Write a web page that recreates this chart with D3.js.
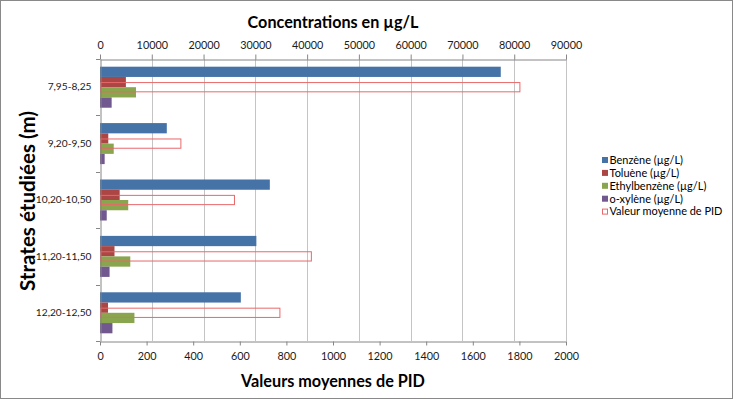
<!DOCTYPE html>
<html>
<head>
<meta charset="utf-8">
<script src="https://cdn.jsdelivr.net/npm/d3@7"></script>
<style>
  html, body { margin: 0; padding: 0; background: #fff; }
  svg { display: block; }
  text { font-family: "Lato", "Open Sans", sans-serif; }
</style>
</head>
<body>
<svg id="chart" width="733" height="399"></svg>
<script>
// ---- data ----
const categories = ["7,95-8,25", "9,20-9,50", "10,20-10,50", "11,20-11,50", "12,20-12,50"];
const benzene   = [77400, 12900, 32800, 30200, 27200];
const toluene   = [5000, 1600, 3800, 2800, 1550];
const ethyl     = [6950, 2650, 5450, 5850, 6650];
const oxylene   = [2250, 900, 1300, 1850, 2400];
const pid       = [1800, 345, 575, 905, 770];
const seriesNames = ["Benzène (µg/L)", "Toluène (µg/L)", "Ethylbenzène (µg/L)", "o-xylène (µg/L)"];
const pidName = "Valeur moyenne de PID";
const topTicks = [0, 10000, 20000, 30000, 40000, 50000, 60000, 70000, 80000, 90000];
const bottomTicks = [0, 200, 400, 600, 800, 1000, 1200, 1400, 1600, 1800, 2000];
const topTitle = "Concentrations en µg/L";
const bottomTitle = "Valeurs moyennes de PID";
const leftTitle = "Strates étudiées (m)";

// ---- styles ----
const colors = ["#4572A7", "#AA4643", "#89A54E", "#71588F"];
const pidColor = "#E8686B";
const axisColor = "#868686";
const gridColor = "#c4c4c4";

const svg = d3.select("#chart");
svg.append("rect").attr("x", 0.5).attr("y", 0.5).attr("width", 732).attr("height", 398)
  .attr("fill", "#fff").attr("stroke", "#898989").attr("stroke-width", 1);

const L = 100, R = 566, T = 59, B = 341;

const xTop = d3.scaleLinear().domain([0, 90000]).range([L, R]);
const xBot = d3.scaleLinear().domain([0, 2000]).range([L, R]);
const y0 = d3.scaleBand().domain(categories).range([T, B]).paddingInner(0).paddingOuter(0);
const y1 = d3.scaleBand().domain(seriesNames).range([0, y0.bandwidth()]).paddingInner(0).paddingOuter(0.75);

// grid lines
svg.append("g").selectAll("line").data(topTicks.slice(1)).join("line")
  .attr("x1", d => Math.round(xTop(d)) + 0.5).attr("x2", d => Math.round(xTop(d)) + 0.5)
  .attr("y1", T).attr("y2", B)
  .attr("stroke", gridColor).attr("stroke-width", 1);

// bars
const seriesData = [benzene, toluene, ethyl, oxylene];
seriesData.forEach((vals, si) => {
  svg.append("g").selectAll("rect").data(vals).join("rect")
    .attr("x", xTop(0))
    .attr("y", (d, i) => y0(categories[i]) + y1(seriesNames[si]))
    .attr("width", d => xTop(d) - xTop(0))
    .attr("height", y1.bandwidth())
    .attr("fill", colors[si]);
});

// PID bars (secondary axis, hollow)
svg.append("g").selectAll("rect").data(pid).join("rect")
  .attr("x", xBot(0) + 0.5)
  .attr("y", (d, i) => y0(categories[i]) + y0.bandwidth() / 2 - y1.bandwidth() / 2 + 0.5)
  .attr("width", d => xBot(d) - xBot(0))
  .attr("height", y1.bandwidth() - 1)
  .attr("fill", "none").attr("stroke", pidColor).attr("stroke-width", 1);

// top axis
const gTop = svg.append("g").attr("transform", `translate(0,${T + 0.5})`)
  .call(d3.axisTop(xTop).tickValues(topTicks).tickFormat(d => String(d)).tickSize(5).tickSizeOuter(0).tickPadding(6));
// bottom axis
const gBot = svg.append("g").attr("transform", `translate(0,${B + 0.5})`)
  .call(d3.axisBottom(xBot).tickValues(bottomTicks).tickFormat(d => String(d)).tickSize(4).tickSizeOuter(0).tickPadding(7));
// left axis
const gLeft = svg.append("g").attr("transform", `translate(${L + 0.5},0)`)
  .call(d3.axisLeft(y0).tickSize(0).tickPadding(9));
// left tick marks at band boundaries
const bounds = categories.map(c => y0(c)).concat([B]);
svg.append("g").selectAll("line").data(bounds).join("line")
  .attr("x1", L - 4).attr("x2", L)
  .attr("y1", d => Math.round(d) + 0.5).attr("y2", d => Math.round(d) + 0.5)
  .attr("stroke", axisColor);

[gTop, gBot, gLeft].forEach(g => {
  g.select(".domain").attr("stroke", axisColor);
  g.selectAll(".tick line").attr("stroke", axisColor);
  g.selectAll(".tick text").attr("fill", "#1a1a1a").attr("font-size", "10.8px")
    .attr("font-family", "Lato, sans-serif");
});
gLeft.selectAll(".tick text").attr("font-size", "10.2px");

// titles
function fit(sel, w) {
  const cur = sel.node().getComputedTextLength();
  const fs = parseFloat(sel.attr("font-size"));
  sel.attr("font-size", (fs * w / cur).toFixed(2) + "px");
}
const t1 = svg.append("text").attr("x", (L + R) / 2).attr("y", 28).attr("text-anchor", "middle")
  .attr("font-weight", "bold").attr("font-size", "16px").attr("fill", "#000").text(topTitle);
fit(t1, 171);
const t2 = svg.append("text").attr("x", (L + R) / 2).attr("y", 387).attr("text-anchor", "middle")
  .attr("font-weight", "bold").attr("font-size", "16px").attr("fill", "#000").text(bottomTitle);
fit(t2, 184);
const t3 = svg.append("text").attr("transform", `translate(35,${(T + B) / 2 + 1}) rotate(-90)`)
  .attr("text-anchor", "middle")
  .attr("font-weight", "bold").attr("font-size", "18px").attr("fill", "#000").text(leftTitle);
fit(t3, 180);

// legend
const legNames = seriesNames.concat([pidName]);
const leg = svg.append("g");
const legTexts = [];
legNames.forEach((n, i) => {
  const yy = 160 + i * 12.9;
  if (i < 4) {
    leg.append("rect").attr("x", 602).attr("y", yy - 3).attr("width", 6).attr("height", 6).attr("fill", colors[i]);
  } else {
    leg.append("rect").attr("x", 602.5).attr("y", yy - 2.5).attr("width", 5).attr("height", 5)
      .attr("fill", "none").attr("stroke", pidColor);
  }
  legTexts.push(leg.append("text").attr("x", 609.5).attr("y", yy + 3.8).attr("font-size", "11px").attr("fill", "#000").text(n));
});
fit(legTexts[4], 113);
const lfs = legTexts[4].attr("font-size");
legTexts.forEach(t => t.attr("font-size", lfs));
</script>
</body>
</html>
